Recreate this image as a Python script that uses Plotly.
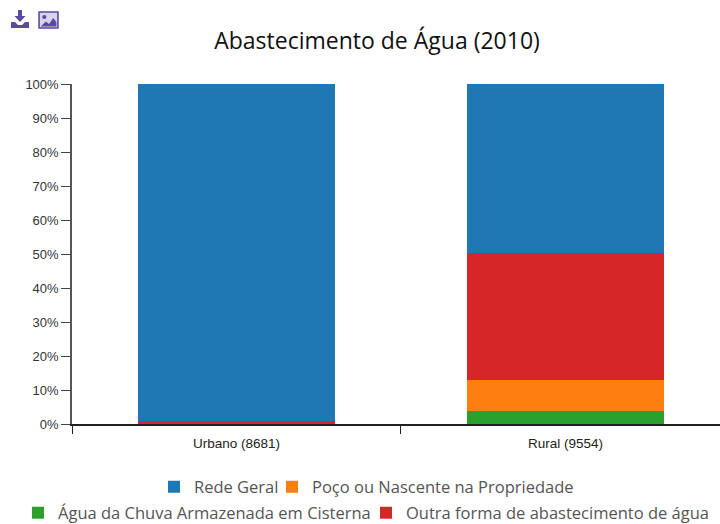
import plotly.graph_objects as go

categories = ["Urbano (8681)", "Rural (9554)"]
agua_chuva = [0, 3.9]
poco = [0, 9.1]
outra = [1, 37.2]
rede = [99, 49.8]
y_ticks = list(range(0, 101, 10))
y_tick_labels = [f"{v}%" for v in y_ticks]
BLUE, ORANGE, GREEN, RED = "#1f77b4", "#ff7f0e", "#2ca02c", "#d62728"
FONT = "Open Sans"

W, H = 720, 524
L, R, T, B = 72, 0, 84, 100
pw, ph = W - L - R, H - T - B
def px(x): return (x - L) / pw
def py(y): return (H - B - y) / ph

fig = go.Figure()
for name, vals, col, lg in [
    ("Água da Chuva Armazenada em Cisterna", agua_chuva, GREEN, "legend3"),
    ("Poço ou Nascente na Propriedade", poco, ORANGE, "legend2"),
    ("Outra forma de abastecimento de água", outra, RED, "legend4"),
    ("Rede Geral", rede, BLUE, "legend"),
]:
    fig.add_bar(x=categories, y=vals, name=name, marker=dict(color=col, line=dict(width=0)),
                legend=lg, showlegend=True)

icon1 = ("data:image/svg+xml;utf8,<svg xmlns='http://www.w3.org/2000/svg' viewBox='0 0 18 18'>"
         "<path fill='%235b4a9e' d='M7 0h4v6h3.500L9 12 3.500 6H7zM0 12h4l3 3h4l3-3h4v6H0z'/></svg>")
icon2 = ("data:image/svg+xml;utf8,<svg xmlns='http://www.w3.org/2000/svg' viewBox='0 0 20 18'>"
         "<rect x='1' y='1' width='18' height='16' fill='%23d9d3ee' stroke='%235b4a9e' stroke-width='1.5'/>"
         "<path fill='%235b4a9e' d='M2.500 15.500l5-5 3 2.500 4-6 3 4v4.500z'/><circle cx='6' cy='6' r='2' fill='%235b4a9e'/></svg>")

def leg(x, y):
    # one legend per entry, placed in page coordinates
    return dict(orientation="h", xref="container", yref="container", x=x / W, xanchor="left",
                y=1 - y / H, yanchor="middle", font=dict(family=FONT, size=16.5, color="#555"),
                itemwidth=30, bgcolor="rgba(0,0,0,0)", borderwidth=0)

fig.update_layout(
    width=W, height=H, barmode="stack", bargap=0.4, showlegend=True,
    margin=dict(l=L, r=R, t=T, b=B, pad=0),
    paper_bgcolor="white", plot_bgcolor="white",
    font=dict(family=FONT, color="#333"),
    title=dict(text="Abastecimento de Água (2010)", x=377 / W, xanchor="center",
               y=1 - 41 / H, yanchor="middle", font=dict(family=FONT, size=23, color="#111")),
    xaxis=dict(type="category", tickson="boundaries", range=[-0.5, 1.47], ticks="outside", ticklen=8,
               tickcolor="#222", showline=True, linecolor="#222", linewidth=1.5, showgrid=False,
               ticklabelstandoff=6,
               tickfont=dict(family="Liberation Sans", size=13.5, color="#222")),
    yaxis=dict(range=[0, 100], tickvals=y_ticks, ticktext=y_tick_labels, ticks="outside", ticklen=9,
               tickcolor="#444", showline=True, linecolor="#555", linewidth=1.5, showgrid=False, zeroline=False,
               tickfont=dict(family="Liberation Sans", size=13, color="#333")),
    legend=leg(154, 487),
    legend2=leg(272, 487),
    legend3=leg(18, 513),
    legend4=leg(366, 513),
    images=[
        dict(source=icon1, xref="paper", yref="paper", x=px(11), y=py(10), sizex=18 / pw, sizey=18 / ph,
             xanchor="left", yanchor="top", sizing="stretch", layer="above"),
        dict(source=icon2, xref="paper", yref="paper", x=px(38), y=py(11), sizex=21 / pw, sizey=18 / ph,
             xanchor="left", yanchor="top", sizing="stretch", layer="above"),
    ],
)
fig.write_html("out.html", config={"displayModeBar": False},
               post_script="document.body.style.margin='0';document.documentElement.style.overflow='hidden';")
